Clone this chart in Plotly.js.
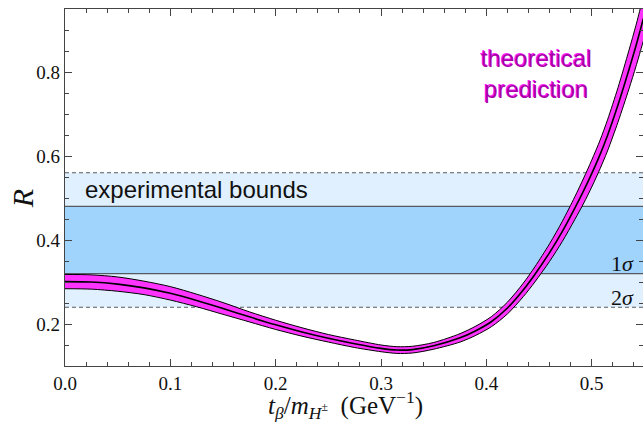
<!DOCTYPE html>
<html>
<head>
<meta charset="utf-8">
<script src="https://cdn.plot.ly/plotly-3.0.1.min.js"></script>
<style>html,body{margin:0;padding:0;background:#fff;}#chart{width:643px;height:422px;}</style>
</head>
<body>
<div id="chart"></div>
<script>
// t_beta / m_H (GeV^-1)
const xVals = [0, 0.025, 0.05, 0.075, 0.1, 0.125, 0.15, 0.175, 0.2, 0.225, 0.25, 0.275, 0.3, 0.315, 0.33, 0.35, 0.375, 0.39, 0.405, 0.42, 0.435, 0.446, 0.46, 0.472, 0.484, 0.4925, 0.5, 0.508, 0.515, 0.525, 0.5354, 0.542, 0.547, 0.549];
const centerR = [0.301, 0.300, 0.295, 0.286, 0.273, 0.256, 0.237, 0.217, 0.198, 0.181, 0.166, 0.153, 0.142, 0.138, 0.139, 0.148, 0.167, 0.184, 0.206, 0.238, 0.281, 0.318, 0.370, 0.420, 0.476, 0.518, 0.558, 0.604, 0.649, 0.722, 0.806, 0.862, 0.908, 0.927];
const upperR = [0.318, 0.317, 0.312, 0.302, 0.289, 0.271, 0.251, 0.229, 0.209, 0.191, 0.175, 0.162, 0.150, 0.146, 0.147, 0.156, 0.177, 0.195, 0.218, 0.252, 0.297, 0.336, 0.391, 0.444, 0.503, 0.548, 0.590, 0.638, 0.686, 0.763, 0.852, 0.911, 0.960, 0.980];
const lowerR = [0.284, 0.283, 0.278, 0.270, 0.257, 0.241, 0.223, 0.205, 0.187, 0.171, 0.157, 0.144, 0.134, 0.130, 0.131, 0.140, 0.157, 0.173, 0.194, 0.224, 0.265, 0.300, 0.349, 0.396, 0.449, 0.488, 0.526, 0.570, 0.612, 0.681, 0.760, 0.813, 0.856, 0.874];
// experimental bounds
const sigma1 = [0.32, 0.48];
const sigma2 = [0.24, 0.56];
const xTicks = [0, 0.1, 0.2, 0.3, 0.4, 0.5];
const xTickText = ['0.0', '0.1', '0.2', '0.3', '0.4', '0.5'];
const yTicks = [0.2, 0.4, 0.6, 0.8];
const yTickText = ['0.2', '0.4', '0.6', '0.8'];

const serif = '"Liberation Serif", "Times New Roman", serif';
const sans = '"Liberation Sans", Arial, Helvetica, sans-serif';

const traces = [
  {x: xVals, y: lowerR, mode: 'lines', line: {color: '#000', width: 1, shape: 'spline', smoothing: 0.8}, hoverinfo: 'skip'},
  {x: xVals, y: upperR, mode: 'lines', fill: 'tonexty', fillcolor: '#ff33ff', line: {color: '#000', width: 1, shape: 'spline', smoothing: 0.8}, hoverinfo: 'skip'},
  {x: xVals, y: centerR, mode: 'lines', line: {color: '#000', width: 1.6, shape: 'spline', smoothing: 0.8}}
];

const bandLine = '#555b63';
const shapes = [
  {type: 'rect', xref: 'paper', yref: 'y', x0: 0, x1: 1, y0: sigma2[0], y1: sigma2[1], fillcolor: '#e1f0fe', line: {width: 0}, layer: 'below'},
  {type: 'rect', xref: 'paper', yref: 'y', x0: 0, x1: 1, y0: sigma1[0], y1: sigma1[1], fillcolor: '#a0d4fc', line: {width: 0}, layer: 'below'},
  {type: 'line', xref: 'paper', yref: 'y', x0: 0, x1: 1, y0: sigma1[0], y1: sigma1[0], line: {color: bandLine, width: 1.4}, layer: 'below'},
  {type: 'line', xref: 'paper', yref: 'y', x0: 0, x1: 1, y0: sigma1[1], y1: sigma1[1], line: {color: bandLine, width: 1.4}, layer: 'below'},
  {type: 'line', xref: 'paper', yref: 'y', x0: 0, x1: 1, y0: sigma2[0], y1: sigma2[0], line: {color: bandLine, width: 1.1, dash: '4px,3px'}, layer: 'below'},
  {type: 'line', xref: 'paper', yref: 'y', x0: 0, x1: 1, y0: sigma2[1], y1: sigma2[1], line: {color: bandLine, width: 1.1, dash: '4px,3px'}, layer: 'below'}
];

const xTitle = '<i>t</i><sub><i>β</i></sub>/<i>m</i><sub><i>H</i><sup>±</sup></sub>\u00a0\u00a0(GeV<sup>−1</sup>)';

const annotations = [
  {x: 0.125, y: 0.52, xref: 'x', yref: 'y', text: 'experimental bounds', showarrow: false,
   font: {family: sans, size: 24, color: '#111'}},
  {x: 0.448, y: 0.795, xref: 'x', yref: 'y', text: 'theoretical<br>prediction', showarrow: false,
   font: {family: sans, size: 24, color: '#a800a8', shadow: '-1px -1px 0px #ff22ff'}, align: 'center'},
  {x: 1, y: 0.343, xref: 'paper', yref: 'y', xanchor: 'right', text: '1<i>σ</i>', showarrow: false,
   font: {family: serif, size: 22, color: '#111'}, xshift: -7},
  {x: 1, y: 0.262, xref: 'paper', yref: 'y', xanchor: 'right', text: '2<i>σ</i>', showarrow: false,
   font: {family: serif, size: 22, color: '#111'}, xshift: -7},
  {x: -0.0744, y: 0.47, xref: 'paper', yref: 'paper', xanchor: 'center', yanchor: 'middle',
   text: '<i>R</i>', textangle: -90, showarrow: false,
   font: {family: serif, size: 30, color: '#111'}},
  {x: 0.486, y: -0.108, xref: 'paper', yref: 'paper', xanchor: 'center', yanchor: 'middle',
   text: xTitle, showarrow: false,
   font: {family: serif, size: 25, color: '#111'}}
];

const axisCommon = {
  showline: true, linecolor: '#444', linewidth: 1.2, mirror: 'ticks',
  ticks: 'inside', ticklen: 7, tickwidth: 1, tickcolor: '#444',
  showgrid: false, zeroline: false,
  tickfont: {family: serif, size: 19, color: '#111'}
};

const layout = {
  width: 643, height: 422,
  margin: {l: 65, r: 0, t: 9, b: 56},
  paper_bgcolor: '#fff', plot_bgcolor: '#fff',
  showlegend: false,
  xaxis: Object.assign({}, axisCommon, {
    range: [0, 0.5487], tickvals: xTicks, ticktext: xTickText,
    minor: {dtick: 0.02, tick0: 0, ticks: 'inside', ticklen: 4, tickcolor: '#444', tickwidth: 1}
  }),
  yaxis: Object.assign({}, axisCommon, {
    range: [0.1, 0.95], tickvals: yTicks, ticktext: yTickText,
    minor: {dtick: 0.05, tick0: 0, ticks: 'inside', ticklen: 4, tickcolor: '#444', tickwidth: 1}
  }),
  shapes: shapes,
  annotations: annotations
};

Plotly.newPlot('chart', traces, layout, {displayModeBar: false, staticPlot: true});
</script>
</body>
</html>
